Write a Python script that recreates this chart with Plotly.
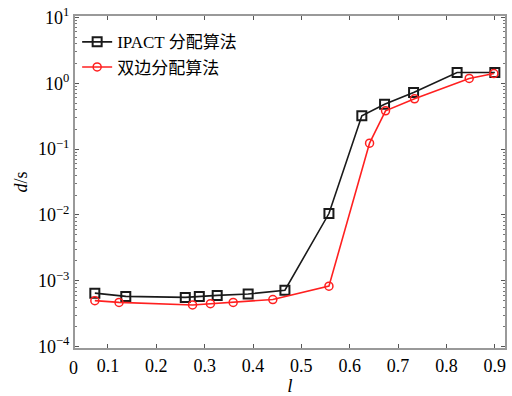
import plotly.graph_objects as go

ipact_x = [0.073, 0.137, 0.26, 0.289, 0.326, 0.39, 0.466, 0.557, 0.625, 0.672, 0.732, 0.822, 0.9]
ipact_y = [6.5e-4, 5.8e-4, 5.6e-4, 5.8e-4, 6.0e-4, 6.3e-4, 7.2e-4, 1.05e-2, 0.32, 0.48, 0.72, 1.45, 1.45]

bi_x = [0.073, 0.123, 0.275, 0.312, 0.359, 0.441, 0.557, 0.641, 0.674, 0.734, 0.847, 0.898]
bi_y = [5.0e-4, 4.7e-4, 4.3e-4, 4.5e-4, 4.7e-4, 5.2e-4, 8.3e-4, 0.123, 0.38, 0.58, 1.18, 1.4]

names = ["IPACT 分配算法", "双边分配算法"]
x_ticks = [0.1, 0.2, 0.3, 0.4, 0.5, 0.6, 0.7, 0.8, 0.9]
x_ticktext = ["0.1", "0.2", "0.3", "0.4", "0.5", "0.6", "0.7", "0.8", "0.9"]
y_ticks = [1e-4, 1e-3, 1e-2, 1e-1, 1e0, 1e1]
y_ticktext = ["10<sup>−4</sup>", "10<sup>−3</sup>", "10<sup>−2</sup>",
              "10<sup>−1</sup>", "10<sup>0</sup>", "10<sup>1</sup>"]

FONT = "'Liberation Serif', 'Times New Roman', Times, serif"
CJK = "'Liberation Serif', 'Noto Sans CJK SC', serif"

fig = go.Figure()
fig.add_trace(go.Scatter(
    x=ipact_x, y=ipact_y, name=names[0], mode="lines+markers",
    line=dict(color="#1a1a1a", width=1.6),
    marker=dict(symbol="square-open", size=9, color="#1a1a1a", line=dict(width=2)),
))
fig.add_trace(go.Scatter(
    x=bi_x, y=bi_y, name=names[1], mode="lines+markers",
    line=dict(color="#ff2020", width=1.6),
    marker=dict(symbol="circle-open", size=8, color="#ff2020", line=dict(width=1.5)),
))

fig.update_layout(
    width=512, height=396,
    margin=dict(l=75, r=5, t=13, b=41),
    paper_bgcolor="white", plot_bgcolor="white",
    font=dict(family=FONT, size=18, color="black"),
    showlegend=True,
    legend=dict(
        x=0.005, y=0.975, xanchor="left", yanchor="top",
        bgcolor="rgba(0,0,0,0)", borderwidth=0,
        font=dict(family=CJK, size=17, color="black"),
        tracegroupgap=0, itemwidth=30,
    ),
)

fig.update_xaxes(
    range=[0.032, 0.921],
    tickvals=x_ticks, ticktext=x_ticktext,
    ticks="inside", ticklen=4, tickcolor="#555",
    showline=True, linecolor="#999", linewidth=2, mirror="ticks",
    showgrid=False, zeroline=False,
    tickfont=dict(family=FONT, size=18),
    title=dict(text="<i>l</i>", font=dict(family=FONT, size=19), standoff=2),
)
fig.update_yaxes(
    type="log", range=[-4.02, 1.02],
    tickvals=y_ticks, ticktext=y_ticktext,
    ticks="inside", ticklen=4, tickcolor="#555",
    minor=dict(ticks="inside", ticklen=2, dtick="D1", tickcolor="#777", showgrid=False),
    showline=True, linecolor="#999", linewidth=2, mirror="ticks",
    showgrid=False, zeroline=False,
    tickfont=dict(family=FONT, size=18),
    title=dict(text="<i>d</i>/s", font=dict(family=FONT, size=18), standoff=6),
)

fig.add_annotation(
    x=0, y=0, xref="paper", yref="paper", text="0", showarrow=False,
    xanchor="center", yanchor="top", xshift=-2, yshift=-8,
    font=dict(family=FONT, size=18),
)

fig.write_html("out.html")
